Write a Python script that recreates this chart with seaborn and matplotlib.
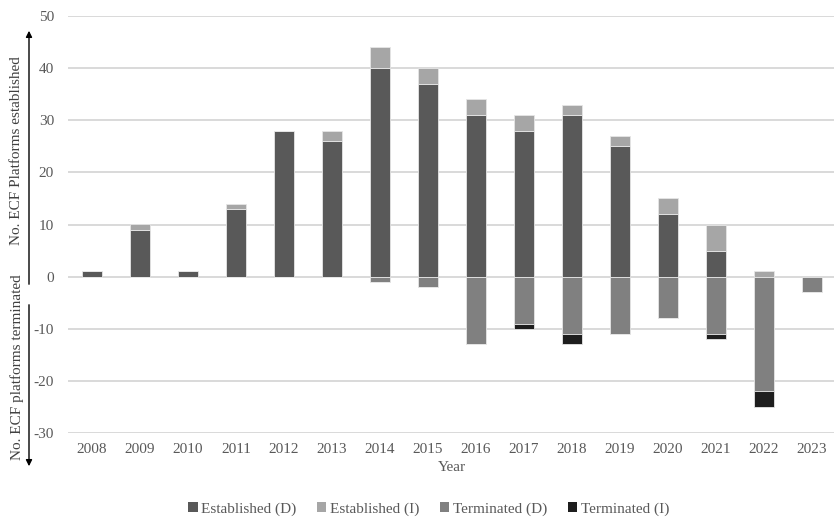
import matplotlib
matplotlib.use("Agg")
import matplotlib.pyplot as plt
from matplotlib.patches import Patch
import numpy as np
import pandas as pd
import seaborn as sns

# Yearly counts of ECF platforms (D = direct, I = indirect)
years = ["2008", "2009", "2010", "2011", "2012", "2013", "2014", "2015",
         "2016", "2017", "2018", "2019", "2020", "2021", "2022", "2023"]
established_d = [1, 9, 1, 13, 28, 26, 40, 37, 31, 28, 31, 25, 12, 5, 0, 0]
established_i = [0, 1, 0, 1, 0, 2, 4, 3, 3, 3, 2, 2, 3, 5, 1, 0]
terminated_d = [0, 0, 0, 0, 0, 0, -1, -2, -13, -9, -11, -11, -8, -11, -22, -3]
terminated_i = [0, 0, 0, 0, 0, 0, 0, 0, 0, -1, -2, 0, 0, -1, -3, 0]

series_names = ["Established (D)", "Established (I)", "Terminated (D)", "Terminated (I)"]
series_colors = ["#595959", "#a6a6a6", "#808080", "#1e1e1e"]

sns.set_style("white")
plt.rcParams["font.family"] = ["Liberation Serif", "DejaVu Serif"]
plt.rcParams["axes.unicode_minus"] = False

df = pd.DataFrame({
    "Year": years,
    "ED": established_d,
    "EI": established_i,
    "TD": terminated_d,
    "TI": terminated_i,
})

fig = plt.figure(figsize=(8.34, 5.2), dpi=100)
ax = fig.add_axes([68 / 834, 87 / 520, 768 / 834, 417 / 520])

bar_kw = dict(width=0.42, edgecolor="#e6e6e6", linewidth=0.6, saturation=1)

# Positive stack: established platforms
sns.barplot(data=df, x="Year", y="ED", color=series_colors[0], ax=ax, **bar_kw)
sns.barplot(data=df, x="Year", y="EI", color=series_colors[1], ax=ax,
            bottom=df["ED"].to_numpy(), **bar_kw)
# Negative stack: terminated platforms
sns.barplot(data=df, x="Year", y="TD", color=series_colors[2], ax=ax, **bar_kw)
sns.barplot(data=df, x="Year", y="TI", color=series_colors[3], ax=ax,
            bottom=df["TD"].to_numpy(), **bar_kw)

ax.set_ylim(-30, 50)
ax.set_xlim(-0.5, len(years) - 0.5)
ax.set_yticks(np.arange(-30, 51, 10))
ax.yaxis.grid(True, color="#d9d9d9", linewidth=1.4)
ax.set_axisbelow(True)
for s in ax.spines.values():
    s.set_visible(False)

ax.tick_params(axis="both", length=0, labelsize=11, labelcolor="#595959")
ax.tick_params(axis="y", pad=10)
ax.tick_params(axis="x", pad=7)
ax.set_ylabel("")
ax.set_xlabel("Year", fontsize=11, color="#595959", labelpad=4)

# Two-part y-axis caption with arrows
fig.text(17 / 834, 1 - 151 / 520, "No. ECF Platforms established", rotation=90,
         ha="center", va="center", fontsize=11, color="#404040")
fig.text(17 / 834, 1 - 367 / 520, "No. ECF platforms terminated", rotation=90,
         ha="center", va="center", fontsize=11, color="#404040")
ax.annotate("", xy=(29, 520 - 28), xytext=(29, 520 - 287), xycoords="figure pixels",
            textcoords="figure pixels",
            arrowprops=dict(arrowstyle="-|>", color="black", lw=1, mutation_scale=9))
ax.annotate("", xy=(29, 520 - 469), xytext=(29, 520 - 302), xycoords="figure pixels",
            textcoords="figure pixels",
            arrowprops=dict(arrowstyle="-|>", color="black", lw=1, mutation_scale=9))

handles = [Patch(facecolor=c, edgecolor="none", label=n)
           for c, n in zip(series_colors, series_names)]
fig.legend(handles=handles, loc="center", bbox_to_anchor=(429 / 834, 1 - 509 / 520),
           ncol=4, frameon=False, fontsize=11, labelcolor="#595959",
           handlelength=0.6, handleheight=0.6, handletextpad=0.25, columnspacing=1.35)

fig.savefig("out.png", dpi=100)
